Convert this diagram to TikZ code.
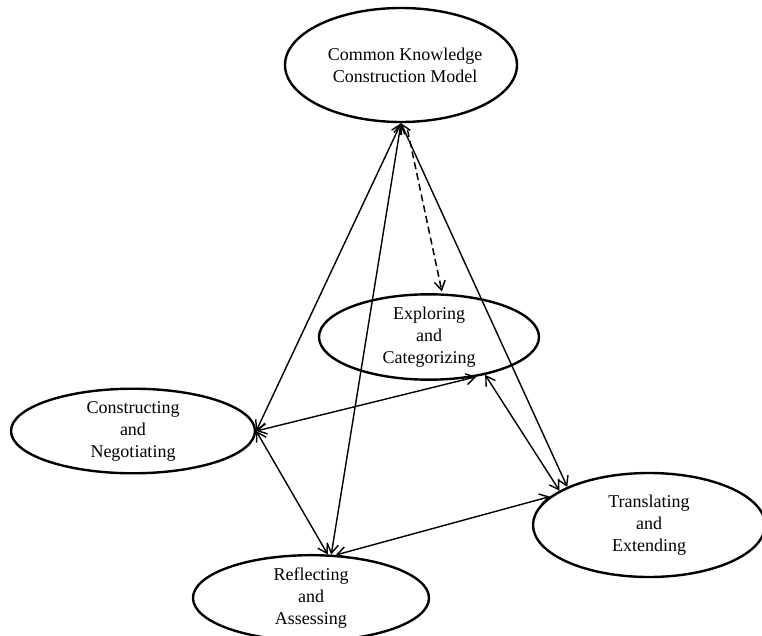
\documentclass[tikz,border=0pt]{standalone}
\usepackage{fontspec}
\setmainfont{Liberation Serif}
\usetikzlibrary{shapes.geometric,arrows.meta}
\tikzset{
  bubble/.style={draw, ellipse, line width=2.4pt, inner sep=0pt, align=center,
    font=\fontsize{18}{22}\selectfont},
  link/.style={{Straight Barb[length=9pt,width=11pt]}-{Straight Barb[length=9pt,width=11pt]}, line width=1.4pt},
  hint/.style={-{Straight Barb[length=9pt,width=11pt]}, line width=1.5pt, dash pattern=on 7pt off 4pt}
}
\begin{document}
\begin{tikzpicture}[x=1pt,y=-1pt]
        \useasboundingbox (0,0) rectangle (762,636);

        \node[bubble, minimum width=232pt, minimum height=114pt] (ckm) at (401,65) {\hspace*{8pt}Common Knowledge\\\hspace*{8pt}Construction Model};
        \node[bubble, minimum width=220pt, minimum height=84pt] (ec) at (429,337) {Exploring\\and\\Categorizing};
        \node[bubble, minimum width=244pt, minimum height=84pt] (cn) at (133,431) {Constructing\\and\\Negotiating};
        \node[bubble, minimum width=232pt, minimum height=104pt] (te) at (649,525) {Translating\\and\\Extending};
        \node[bubble, minimum width=236pt, minimum height=84pt] (ra) at (311,598) {Reflecting\\and\\Assessing};

        \draw[link] (ckm.south) -- (cn.east);
        \draw[link] (ckm.south) -- (ra.65);
        \draw[link] (ckm.south) -- (te.155);
        \draw[hint, shorten <=7pt, shorten >=2pt] (ckm.-85) -- (ec.73);
        \draw[link] (cn.east) -- (ec.-40);
        \draw[link] (cn.east) -- (ra.69);
        \draw[link] (ec.-34) -- (te.159);
        \draw[link] (ra.60) -- (te.164);
    \end{tikzpicture}
\end{document}
